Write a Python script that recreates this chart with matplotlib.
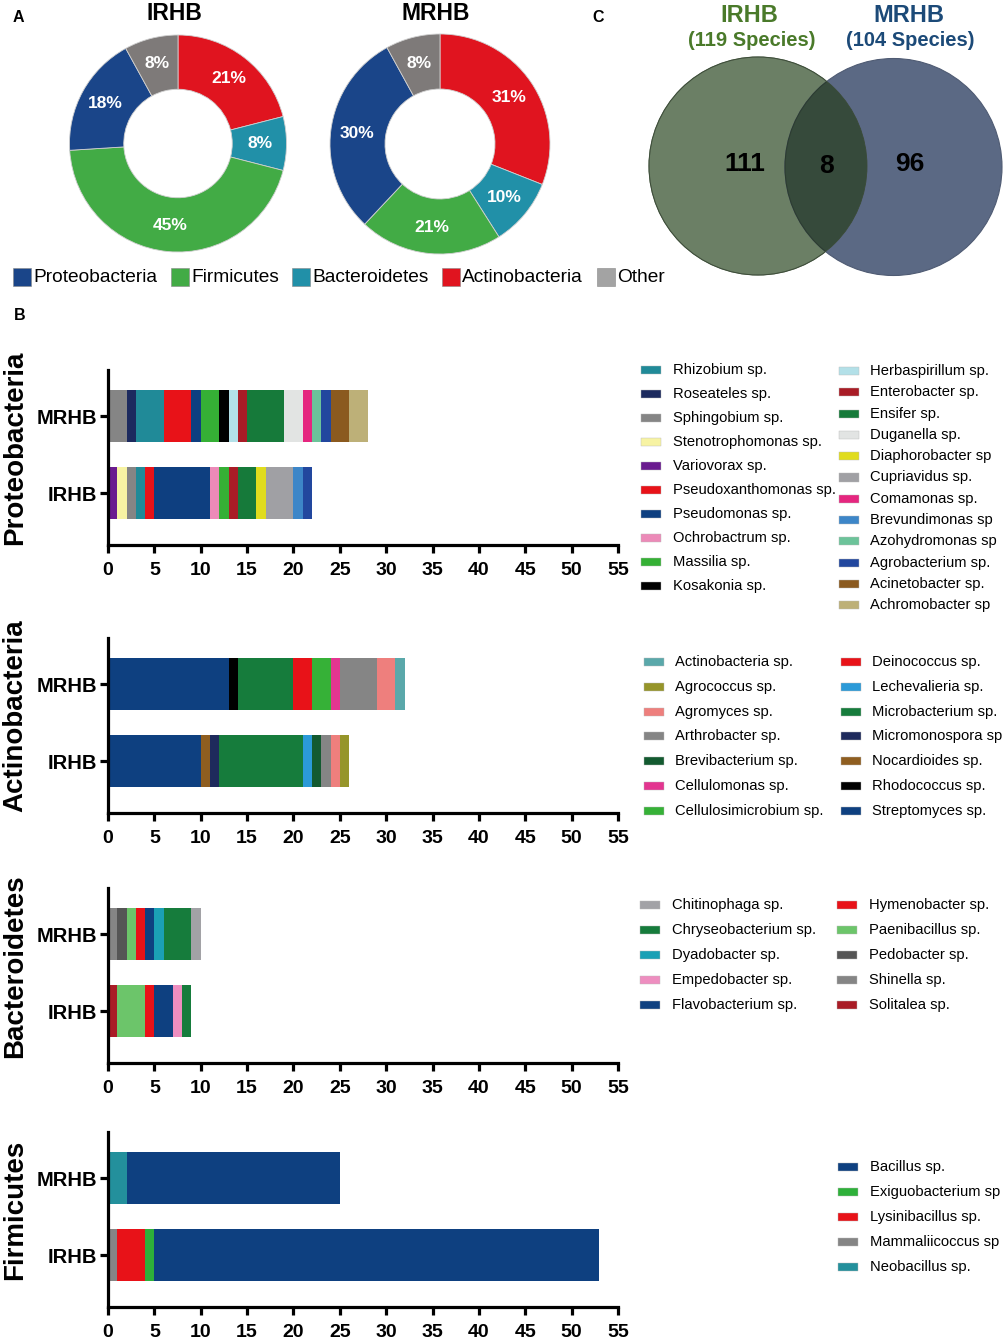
import matplotlib
matplotlib.use('Agg')
import matplotlib.pyplot as plt
from matplotlib.patches import Rectangle, Circle
import numpy as np

plt.rcParams['font.family'] = ['Liberation Sans', 'DejaVu Sans']

W, H = 1006, 1339

# ---- panel A: phylum share (%) ----
phyla = ['Actinobacteria', 'Bacteroidetes', 'Firmicutes', 'Proteobacteria', 'Other']
phyla_colors = ['#e0141f', '#2190a8', '#42ab45', '#1a4589', '#7e7a79']
irhb_pct = [21, 8, 45, 18, 8]
mrhb_pct = [31, 10, 21, 30, 8]
legend_phyla = ['Proteobacteria', 'Firmicutes', 'Bacteroidetes', 'Actinobacteria', 'Other']
legend_phyla_colors = ['#1a4589', '#42ab45', '#2190a8', '#e0141f', '#a3a3a3']

# ---- panel C: venn counts ----
venn_only_irhb = 111
venn_shared = 8
venn_only_mrhb = 96
irhb_total = 119
mrhb_total = 104

# ---- panel B: species counts (legend order) ----
proteo_species = ['Rhizobium sp.', 'Roseateles sp.', 'Sphingobium sp.', 'Stenotrophomonas sp.',
                  'Variovorax sp.', 'Pseudoxanthomonas sp.', 'Pseudomonas sp.', 'Ochrobactrum sp.',
                  'Massilia sp.', 'Kosakonia sp.', 'Herbaspirillum sp.', 'Enterobacter sp.',
                  'Ensifer sp.', 'Duganella sp.', 'Diaphorobacter sp', 'Cupriavidus sp.',
                  'Comamonas sp.', 'Brevundimonas sp', 'Azohydromonas sp', 'Agrobacterium sp.',
                  'Acinetobacter sp.', 'Achromobacter sp']
proteo_colors = ['#208a98', '#1c2a5e', '#858585', '#f7f3a3', '#6a1b8f', '#e81218', '#0e3f80',
                 '#ec8ab8', '#35b035', '#000000', '#b3e0e8', '#a91c26', '#167a3a', '#e2e4e3',
                 '#e0dc1e', '#a0a0a4', '#e5267f', '#3d86c8', '#6cc39a', '#22479e', '#8b5a1f',
                 '#bdb078']
proteo_mrhb = [3, 1, 2, 0, 0, 3, 1, 0, 2, 1, 1, 1, 4, 2, 0, 0, 1, 0, 1, 1, 2, 2]
proteo_irhb = [1, 0, 1, 1, 1, 1, 6, 1, 1, 0, 0, 1, 2, 0, 1, 3, 0, 1, 0, 1, 0, 0]

actino_species = ['Actinobacteria sp.', 'Agrococcus sp.', 'Agromyces sp.', 'Arthrobacter sp.',
                  'Brevibacterium sp.', 'Cellulomonas sp.', 'Cellulosimicrobium sp.',
                  'Deinococcus sp.', 'Lechevalieria sp.', 'Microbacterium sp.',
                  'Micromonospora sp', 'Nocardioides sp.', 'Rhodococcus sp.', 'Streptomyces sp.']
actino_colors = ['#5aa8aa', '#96952a', '#ee7f7d', '#858585', '#135a30', '#e33590', '#36b137',
                 '#e81218', '#2b9ad8', '#167c3c', '#1e2a5c', '#8f5e20', '#000000', '#0e4080']
actino_mrhb = [1, 0, 2, 4, 0, 1, 2, 2, 0, 6, 0, 0, 1, 13]
actino_irhb = [0, 1, 1, 1, 1, 0, 0, 0, 1, 9, 1, 1, 0, 10]

bacter_species = ['Chitinophaga sp.', 'Chryseobacterium sp.', 'Dyadobacter sp.',
                  'Empedobacter sp.', 'Flavobacterium sp.', 'Hymenobacter sp.',
                  'Paenibacillus sp.', 'Pedobacter sp.', 'Shinella sp.', 'Solitalea sp.']
bacter_colors = ['#a2a2a6', '#167c3c', '#1ba0b5', '#ee8ec0', '#0e4080', '#e81218',
                 '#6cc56a', '#555555', '#858585', '#a91c26']
bacter_mrhb = [1, 3, 1, 0, 1, 1, 1, 1, 1, 0]
bacter_irhb = [0, 1, 0, 1, 2, 1, 3, 0, 0, 1]

firm_species = ['Bacillus sp.', 'Exiguobacterium sp', 'Lysinibacillus sp.',
                'Mammaliicoccus sp', 'Neobacillus sp.']
firm_colors = ['#0e4080', '#2eb03a', '#e81218', '#858585', '#23909c']
firm_mrhb = [23, 0, 0, 0, 2]
firm_irhb = [48, 1, 3, 1, 0]

groups = ['IRHB', 'MRHB']
xticks = np.arange(0, 56, 5)


def fx(x):
    return x / W


def fy(y):
    return 1 - y / H


fig = plt.figure(figsize=(W / 100, H / 100), dpi=100)

# ---------- A: donuts ----------
for title, pct, cx, cy, r in [('IRHB', irhb_pct, 178, 143.5, 108.5),
                              ('MRHB', mrhb_pct, 440, 144, 110)]:
    ax = fig.add_axes([fx(cx - r), fy(cy + r), 2 * r / W, 2 * r / H])
    wedges, _, autotexts = ax.pie(pct, colors=phyla_colors, startangle=90, counterclock=False,
                                  radius=1, autopct='%d%%', pctdistance=0.76,
                                  wedgeprops=dict(width=0.5, edgecolor='#d0d0d0', linewidth=0.6),
                                  textprops=dict(color='white', fontweight='bold', fontsize=12.5))
    ax.set_xlim(-1, 1)
    ax.set_ylim(-1, 1)
    ax.set_aspect('auto')
    fig.text(fx(cx - 4), fy(13), title, ha='center', va='center', fontsize=16.5, fontweight='bold')

lx = [13, 171, 292, 442, 597]
for name, c, x in zip(legend_phyla, legend_phyla_colors, lx):
    fig.add_artist(Rectangle((fx(x), fy(286)), 18 / W, 18 / H, facecolor=c,
                             edgecolor='#888888', linewidth=0.4, transform=fig.transFigure))
    fig.text(fx(x + 20), fy(277), name, ha='left', va='center', fontsize=13.8)

fig.text(fx(18), fy(18), 'A', ha='center', va='center', fontsize=11.5, fontweight='bold')
fig.text(fx(598), fy(18), 'C', ha='center', va='center', fontsize=11.5, fontweight='bold')
fig.text(fx(20), fy(316), 'B', ha='center', va='center', fontsize=11.5, fontweight='bold')

# ---------- C: venn ----------
vax = fig.add_axes([fx(640), fy(290), 370 / W, 250 / H])
vax.set_xlim(640, 1010)
vax.set_ylim(290, 40)
vax.set_aspect('equal')
vax.axis('off')
left_c = Circle((758, 166), 109, facecolor='#6b7f65', edgecolor='#5c6c57', linewidth=0.8)
right_c = Circle((893.5, 167), 108.5, facecolor='#5b6984', edgecolor='#4f5b73', linewidth=0.8)
vax.add_patch(left_c)
vax.add_patch(right_c)
inter = Circle((893.5, 167), 108.5, facecolor='#364a3b', edgecolor='#2c3c30', linewidth=0.8)
vax.add_patch(inter)
inter.set_clip_path(left_c)
vax.add_patch(Circle((758, 166), 109, facecolor='none', edgecolor='#3a4a36', linewidth=0.6))
vax.text(745, 164, str(venn_only_irhb), ha='center', va='center', fontsize=19, fontweight='bold')
vax.text(826, 166, str(venn_shared), ha='center', va='center', fontsize=19, fontweight='bold')
vax.text(910, 164, str(venn_only_mrhb), ha='center', va='center', fontsize=19, fontweight='bold')
fig.text(fx(749), fy(16), 'IRHB', ha='center', va='center', fontsize=17, fontweight='bold', color='#4a7a2a')
fig.text(fx(752), fy(40), '(%d Species)' % irhb_total, ha='center', va='center', fontsize=14.5,
         fontweight='bold', color='#4a7a2a')
fig.text(fx(909), fy(16), 'MRHB', ha='center', va='center', fontsize=17, fontweight='bold', color='#1c4a78')
fig.text(fx(910), fy(40), '(%d Species)' % mrhb_total, ha='center', va='center', fontsize=14.5,
         fontweight='bold', color='#1c4a78')

# ---------- B: stacked bars ----------
panels = [
    ('Proteobacteria', proteo_species, proteo_colors, proteo_irhb, proteo_mrhb, 545,
     [(641, 673, 370, 24.0, 10), (839, 870, 371, 21.3, 12)]),
    ('Actinobacteria', actino_species, actino_colors, actino_irhb, actino_mrhb, 813,
     [(644, 675, 662, 24.8, 7), (841, 872, 662, 24.8, 7)]),
    ('Bacteroidetes', bacter_species, bacter_colors, bacter_irhb, bacter_mrhb, 1063,
     [(640, 672, 905, 25.0, 5), (837, 869, 905, 25.0, 5)]),
    ('Firmicutes', firm_species, firm_colors, firm_irhb, firm_mrhb, 1307,
     [(838, 870, 1167, 25.0, 5)]),
]

for label, species, colors, irhb, mrhb, bottom_px, leg in panels:
    ax = fig.add_axes([fx(108), fy(bottom_px), 510 / W, 175 / H])
    order = sorted(range(len(species)), key=lambda i: species[i], reverse=True)
    vals = np.array([irhb, mrhb])
    left = np.zeros(2)
    for i in order:
        v = vals[:, i]
        ax.barh([0, 1], v, left=left, height=0.675, color=colors[i], linewidth=0)
        left += v
    ax.set_xlim(0, 55)
    ax.set_ylim(-0.675, 1.6)
    ax.set_xticks(xticks)
    ax.set_yticks([0, 1])
    ax.set_yticklabels(groups)
    ax.spines['top'].set_visible(False)
    ax.spines['right'].set_visible(False)
    for s in ['left', 'bottom']:
        ax.spines[s].set_linewidth(2.3)
    ax.tick_params(axis='both', width=2.3, length=6, labelsize=14)
    ax.tick_params(axis='x', pad=6.5)
    ax.tick_params(axis='y', pad=2, labelsize=14.5)
    for t in ax.get_xticklabels() + ax.get_yticklabels():
        t.set_fontweight('bold')
    fig.text(fx(15), fy(bottom_px - 97), label, rotation=90, ha='center', va='center',
             fontsize=20, fontweight='bold')

    k = 0
    for px_, tx, y0, step, n in leg:
        for j in range(n):
            y = y0 + j * step
            fig.add_artist(Rectangle((fx(px_), fy(y + 4)), 20 / W, 8 / H,
                                     facecolor=colors[k], edgecolor='#bbbbbb',
                                     linewidth=0.3, transform=fig.transFigure))
            fig.text(fx(tx), fy(y), species[k], ha='left', va='center', fontsize=10.6)
            k += 1

fig.savefig('out.png', dpi=100)
